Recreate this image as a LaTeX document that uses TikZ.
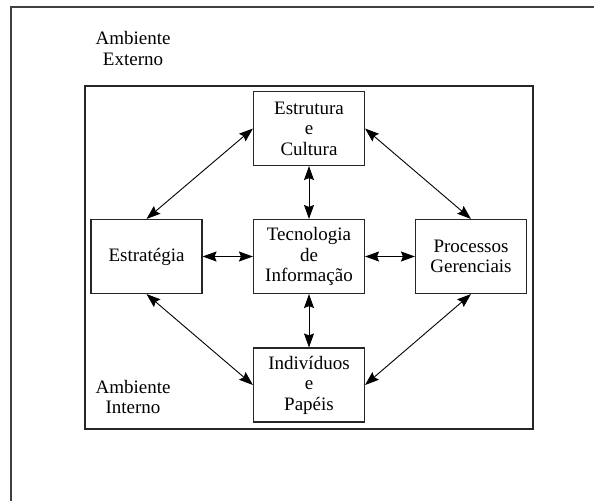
\documentclass[tikz,border=0pt]{standalone}
\usepackage{fontspec}
\setmainfont{Liberation Serif}
\usetikzlibrary{arrows.meta}
\begin{document}
\begin{tikzpicture}[x=1pt,y=-1pt,
  box/.style={draw=black!85, line width=1.1pt, minimum width=111pt, minimum height=74pt,
              inner sep=0pt, align=center, font=\fontsize{19}{20.5}\selectfont},
  label/.style={inner sep=0pt, align=center, font=\fontsize{19}{20.5}\selectfont},
  link/.style={line width=0.9pt,
    {Stealth[length=14pt,width=10pt,inset=2pt]}-{Stealth[length=14pt,width=10pt,inset=2pt]}}]
  \useasboundingbox (0,0) rectangle (594,501);
  % open outer frame: top and left edges only
  \draw[black!75, line width=1.3pt] (11,501) -- (11,7) -- (594,7);
  % inner environment frame
  \draw[black!85, line width=1.1pt] (85,86) rectangle (533,429);
  % labels for the two environments
  \node[label] (ext) at (133,48.5) {Ambiente\\Externo};
  \node[label] (int) at (133,397) {Ambiente\\Interno};
  % the five blocks
  \node[box] (est) at (309,128.5) {Estrutura\\e\\Cultura};
  \node[box] (stg) at (146.5,256.5) {Estratégia};
  \node[box] (ti)  at (309,256.5) {Tecnologia\\de\\Informação};
  \node[box] (prc) at (471,256.5) {Processos\\Gerenciais};
  \node[box] (ind) at (309,385) {Indivíduos\\e\\Papéis};
  % two-way links
  \draw[link] (est.west) -- (stg.north);
  \draw[link] (est.east) -- (prc.north);
  \draw[link] (stg.south) -- (ind.west);
  \draw[link] (prc.south) -- (ind.east);
  \draw[link] (est.south) -- (ti.north);
  \draw[link] (ti.south) -- (ind.north);
  \draw[link] (stg.east) -- (ti.west);
  \draw[link] (ti.east) -- (prc.west);
\end{tikzpicture}
\end{document}
